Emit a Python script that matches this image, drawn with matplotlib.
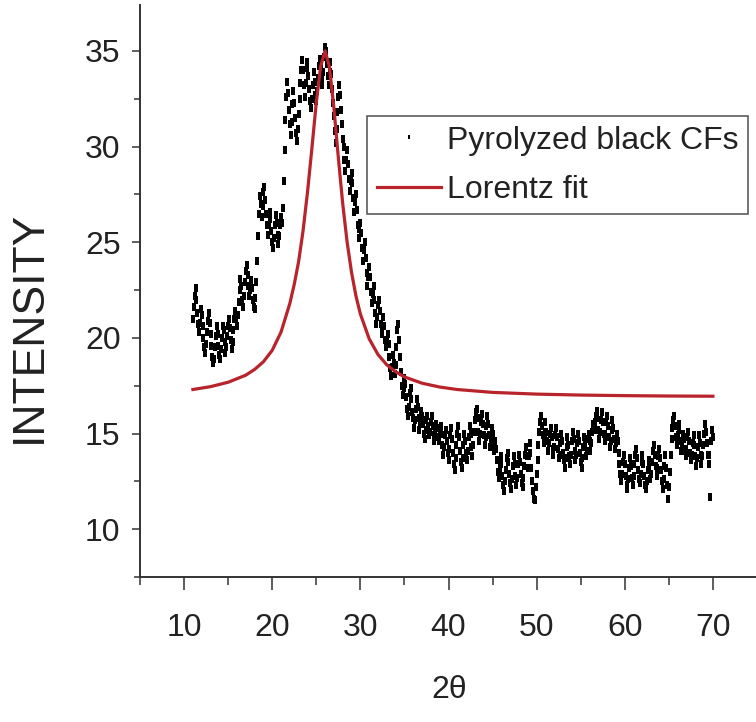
import numpy as np
import matplotlib
matplotlib.use("Agg")
import matplotlib.pyplot as plt
from matplotlib.ticker import MultipleLocator

plt.rcParams['font.family'] = ['Liberation Sans', 'DejaVu Sans']

# XRD scan: 2-theta grid (start, stop, step in degrees)
scan_start, scan_stop, scan_step = 11.0, 70.0, 0.1

# Measured intensity, one row per degree of 2-theta (n.0 ... n.9)
intensity_rows = [
    [21.0, 21.6, 22.2, 22.6, 22.0, 21.3, 20.7, 20.3, 20.8, 21.5],  # 11
    [21.2, 20.6, 20.0, 19.5, 19.2, 19.7, 20.3, 20.9, 21.3, 20.8],  # 12
    [20.2, 19.6, 19.0, 18.7, 18.9, 19.5, 20.1, 20.6, 20.2, 19.6],  # 13
    [19.1, 18.9, 19.4, 20.0, 20.6, 20.4, 19.8, 19.2, 19.5, 20.1],  # 14
    [20.6, 21.0, 20.5, 19.9, 19.4, 19.8, 20.4, 21.0, 21.4, 21.0],  # 15
    [20.6, 21.2, 21.9, 22.5, 23.1, 22.7, 22.0, 21.6, 22.2, 22.9],  # 16
    [23.5, 23.8, 23.3, 22.7, 22.2, 22.5, 23.0, 22.6, 22.0, 21.6],  # 17
    [21.5, 22.1, 22.9, 24.0, 25.3, 26.5, 27.4, 27.0, 26.3, 26.9],  # 18
    [27.6, 27.9, 27.2, 26.5, 25.9, 25.4, 25.9, 26.6, 26.2, 25.6],  # 19
    [25.0, 24.7, 25.2, 25.9, 26.4, 26.0, 25.4, 24.9, 25.3, 25.9],  # 20
    [26.3, 26.0, 26.8, 28.2, 29.8, 31.4, 32.6, 33.4, 32.8, 31.9],  # 21
    [31.2, 30.6, 31.3, 32.2, 32.9, 32.3, 31.5, 30.7, 30.3, 30.9],  # 22
    [31.7, 32.5, 33.3, 34.0, 34.5, 34.0, 33.2, 32.6, 33.3, 34.1],  # 23
    [34.4, 33.7, 33.0, 32.4, 32.0, 32.5, 33.2, 33.9, 33.4, 32.7],  # 24
    [32.4, 32.9, 33.6, 34.2, 34.6, 34.1, 33.5, 33.2, 33.9, 34.7],  # 25
    [35.2, 35.0, 34.3, 33.7, 33.2, 33.9, 34.4, 33.8, 33.0, 32.3],  # 26
    [31.6, 30.8, 30.2, 30.9, 31.8, 32.6, 33.2, 32.7, 31.9, 31.2],  # 27
    [30.4, 30.0, 29.3, 28.7, 29.3, 29.8, 29.1, 28.3, 27.7, 28.2],  # 28
    [28.6, 28.1, 27.3, 26.6, 27.1, 27.5, 26.7, 25.9, 25.2, 25.7],  # 29
    [26.0, 25.5, 24.7, 24.0, 24.6, 25.0, 24.2, 23.4, 22.7, 23.2],  # 30
    [23.7, 23.2, 22.4, 21.8, 22.3, 22.7, 22.0, 21.3, 20.7, 21.1],  # 31
    [21.7, 22.0, 21.4, 20.7, 20.2, 20.6, 21.1, 20.6, 19.9, 19.5],  # 32
    [19.8, 20.2, 19.7, 19.0, 18.4, 18.0, 18.5, 19.1, 18.7, 18.1],  # 33
    [18.6, 19.5, 20.4, 20.7, 19.9, 19.0, 18.2, 17.5, 17.0, 17.4],  # 34
    [17.9, 17.6, 16.9, 16.3, 15.9, 16.4, 17.1, 17.4, 16.8, 16.1],  # 35
    [15.8, 15.3, 15.7, 16.3, 16.8, 16.4, 15.8, 15.2, 15.6, 16.2],  # 36
    [15.9, 15.5, 15.0, 14.7, 15.2, 15.7, 15.9, 15.4, 14.9, 15.1],  # 37
    [15.6, 15.9, 15.4, 14.9, 14.6, 15.0, 15.5, 15.3, 14.8, 14.6],  # 38
    [15.0, 15.4, 15.0, 14.4, 13.9, 14.3, 14.9, 15.2, 14.6, 14.0],  # 39
    [13.6, 14.2, 14.9, 15.3, 14.7, 14.0, 13.4, 13.1, 13.7, 14.4],  # 40
    [15.0, 15.4, 14.8, 14.1, 13.5, 13.2, 13.7, 14.4, 15.0, 14.6],  # 41
    [14.0, 13.6, 14.1, 14.8, 15.4, 15.0, 14.3, 13.8, 14.4, 15.1],  # 42
    [15.7, 16.1, 16.3, 15.8, 15.1, 14.6, 15.0, 15.6, 16.0, 15.5],  # 43
    [14.9, 14.4, 14.8, 15.4, 15.9, 15.5, 14.9, 14.3, 14.7, 15.3],  # 44
    [15.0, 14.5, 14.1, 14.6, 14.2, 13.6, 13.0, 12.7, 13.2, 13.8],  # 45
    [13.4, 12.8, 12.3, 12.0, 12.5, 13.1, 13.7, 14.0, 13.5, 12.9],  # 46
    [12.4, 12.1, 12.6, 13.3, 13.8, 13.4, 12.8, 12.3, 12.7, 13.4],  # 47
    [13.9, 13.5, 12.9, 12.4, 12.2, 12.7, 13.3, 13.9, 14.3, 13.8],  # 48
    [13.2, 13.8, 14.5, 14.0, 13.2, 12.5, 12.0, 11.6, 11.5, 12.2],  # 49
    [12.9, 13.6, 14.4, 15.1, 15.6, 15.9, 15.4, 14.9, 14.5, 15.0],  # 50
    [15.6, 15.1, 14.6, 14.1, 14.5, 15.0, 15.3, 14.8, 14.2, 13.9],  # 51
    [14.3, 14.9, 15.3, 14.8, 14.2, 13.7, 13.9, 14.5, 15.0, 14.6],  # 52
    [14.0, 13.6, 13.2, 13.7, 14.3, 14.8, 14.4, 13.8, 13.4, 13.9],  # 53
    [14.6, 15.1, 14.7, 14.1, 13.6, 13.9, 14.5, 15.0, 14.6, 14.0],  # 54
    [13.5, 13.2, 13.7, 14.3, 14.8, 14.4, 13.8, 14.1, 14.7, 15.0],  # 55
    [14.6, 14.1, 14.5, 15.1, 15.5, 15.2, 15.6, 15.9, 16.2, 15.8],  # 56
    [15.2, 14.7, 15.1, 15.7, 16.1, 15.6, 15.0, 14.6, 15.0, 15.6],  # 57
    [15.9, 15.4, 14.8, 14.3, 14.6, 15.2, 15.7, 15.3, 14.7, 14.2],  # 58
    [14.5, 15.0, 14.6, 14.0, 13.4, 12.9, 12.5, 12.9, 13.5, 13.9],  # 59
    [13.4, 12.8, 12.3, 12.1, 12.6, 13.2, 13.7, 13.3, 12.7, 12.3],  # 60
    [12.8, 13.4, 13.9, 14.2, 13.7, 13.1, 12.6, 12.4, 12.9, 13.5],  # 61
    [13.9, 13.4, 12.8, 12.3, 12.1, 12.5, 13.1, 13.6, 13.2, 12.6],  # 62
    [12.9, 13.5, 14.1, 14.4, 13.9, 13.3, 12.8, 13.2, 13.8, 14.2],  # 63
    [13.7, 13.1, 12.5, 12.1, 12.6, 13.3, 13.9, 13.2, 12.3, 11.6],  # 64
    [12.2, 13.0, 13.9, 14.7, 15.3, 15.7, 15.9, 15.4, 14.8, 14.4],  # 65
    [14.9, 15.5, 15.2, 14.6, 14.1, 14.5, 15.0, 14.7, 14.1, 13.8],  # 66
    [14.2, 14.8, 15.1, 14.6, 14.0, 13.6, 13.9, 14.5, 14.9, 14.4],  # 67
    [13.8, 13.3, 13.7, 14.3, 14.9, 14.5, 13.9, 13.4, 13.8, 14.4],  # 68
    [15.0, 15.5, 15.1, 14.5, 13.9, 13.4, 13.9, 11.7, 14.6, 15.2],  # 69
]
intensity_last = [14.8]  # 70.0

# Lorentz fit curve
fit_two_theta = [11, 13, 15, 17, 18, 19, 20, 21, 22, 22.5, 23, 23.5, 24, 24.5,
                 25, 25.5, 26, 26.5, 27, 27.5, 28, 28.5, 29, 29.5, 30, 31, 32,
                 33, 34, 35, 37, 39, 41, 45, 50, 55, 60, 65, 70]
fit_intensity = [17.30, 17.45, 17.68, 18.05, 18.35, 18.75, 19.35, 20.30, 21.80,
                 22.80, 24.00, 25.60, 27.60, 29.90, 32.30, 34.20, 35.00, 34.15,
                 32.01, 29.43, 27.01, 25.00, 23.42, 22.19, 21.25, 19.95, 19.13,
                 18.59, 18.23, 17.96, 17.63, 17.43, 17.30, 17.15, 17.06, 17.01,
                 16.98, 16.96, 16.95]

two_theta = np.round(np.arange(scan_start, scan_stop + scan_step / 2, scan_step), 2)
intensity = np.array([v for row in intensity_rows for v in row] + intensity_last)

W, H = 756, 722
fig = plt.figure(figsize=(W / 100, H / 100), dpi=100)
ax = fig.add_axes([140 / W, 145 / H, 617 / W, 572 / H])

# small upright rectangles as data markers
dot = [(-0.6, -1.0), (0.6, -1.0), (0.6, 1.0), (-0.6, 1.0), (-0.6, -1.0)]
ax.plot(two_theta, intensity, linestyle='none', marker=dot, ms=5.2,
        mec='black', mfc='black', mew=0, color='black',
        label='Pyrolyzed black CFs', zorder=2)
ax.plot(fit_two_theta, fit_intensity, color='#b8232c', lw=2.3,
        label='Lorentz fit', zorder=3)

ax.set_xlim(5, 75)
ax.set_ylim(7.5, 37.4)

ax.xaxis.set_minor_locator(MultipleLocator(5))
ax.yaxis.set_major_locator(MultipleLocator(5))
ax.yaxis.set_minor_locator(MultipleLocator(2.5))
ax.set_xticks(range(10, 71, 10))

for side in ('top', 'right'):
    ax.spines[side].set_visible(False)
for side in ('left', 'bottom'):
    ax.spines[side].set_linewidth(1.4)
    ax.spines[side].set_color('#333333')

ax.tick_params(axis='x', which='major', direction='out', length=9, width=1.1,
               color='#333333', labelsize=23, pad=17, labelcolor='#222222')
ax.tick_params(axis='x', which='minor', direction='out', length=5.5, width=1.1,
               color='#333333')
ax.tick_params(axis='y', which='major', direction='out', length=6, width=1.1,
               color='#333333', labelsize=23, pad=8, labelcolor='#222222')
ax.tick_params(axis='y', which='minor', direction='out', length=4, width=1.1,
               color='#333333')

fig.text(29 / W, 1 - 327 / H, 'INTENSITY', rotation=90, ha='center',
         va='center', fontsize=32, color='#222222')
fig.text(449 / W, 1 - 690 / H, '2θ', ha='center', va='center',
         fontsize=23, color='#222222')

leg = ax.legend(loc='upper right', bbox_to_anchor=(748 / W, 1 - 116 / H),
                bbox_transform=fig.transFigure, borderaxespad=0,
                fontsize=23, numpoints=1, markerscale=0.55,
                handlelength=2.0, handletextpad=0.2, borderpad=0.3,
                labelspacing=0.6, fancybox=False, frameon=True)
leg.get_frame().set_edgecolor('#333333')
leg.get_frame().set_linewidth(1.2)
for t in leg.get_texts():
    t.set_color('#222222')

fig.savefig('out.png', dpi=100)
